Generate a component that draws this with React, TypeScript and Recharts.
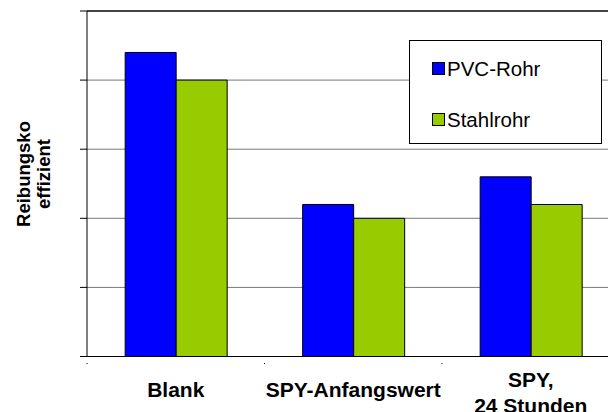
import React from "react";
import { BarChart, Bar, XAxis, YAxis, CartesianGrid, Legend, Label } from "recharts";

const categories = ["Blank", "SPY-Anfangswert", "SPY,\n24 Stunden"];
const pvcValues = [0.44, 0.22, 0.26];
const stahlValues = [0.4, 0.2, 0.22];
const yTicks = [0, 0.1, 0.2, 0.3, 0.4, 0.5];
const seriesNames = ["PVC-Rohr", "Stahlrohr"];
const seriesColors = ["#0000FF", "#99CC00"];
const yLabelLines = ["Reibungsko", "effizient"];

const data = categories.map((c, i) => ({ cat: c, pvc: pvcValues[i], stahl: stahlValues[i] }));

const FONT = "'Liberation Sans', Arial, sans-serif";

const XTick = (props: any) => {
  const { x, y, payload } = props;
  const half = payload && payload.offset ? payload.offset : 88.75;
  const lines = String(payload.value).split("\n");
  const firstBaseline = 397 - (lines.length - 1) * 10.5;
  return (
    <g>
      <line x1={x - half} y1={y - 0.5} x2={x - half} y2={363} stroke="#000" strokeWidth={1} />
      <text textAnchor="middle" fontFamily={FONT} fontWeight="bold" fontSize={21} fill="#000">
        {lines.map((l, i) => (
          <tspan key={i} x={x} y={firstBaseline + i * 26}>
            {l}
          </tspan>
        ))}
      </text>
    </g>
  );
};

const GridLine = (props: any) => {
  const { x1, x2, y1, y2 } = props;
  const isTop = Math.abs(y1 - 11) < 2;
  return (
    <line
      x1={x1}
      x2={x2}
      y1={y1}
      y2={y2}
      stroke={isTop ? "#444" : "#777"}
      strokeWidth={isTop ? 2 : 1}
    />
  );
};

const LegendContent = () => (
  <div
    style={{
      position: "relative",
      width: 193,
      height: 104,
      boxSizing: "border-box",
      border: "1px solid #000",
      background: "#fff",
      fontFamily: FONT,
    }}
  >
    {seriesNames.map((n, i) => (
      <React.Fragment key={n}>
        <div
          style={{
            position: "absolute",
            left: 22,
            top: 21 + i * 51,
            width: 13,
            height: 13,
            boxSizing: "border-box",
            border: "1px solid #000",
            background: seriesColors[i],
          }}
        />
        <div
          style={{
            position: "absolute",
            left: 37,
            top: 17 + i * 51,
            fontSize: 20.5,
            lineHeight: "21px",
            color: "#000",
            whiteSpace: "nowrap",
          }}
        >
          {n}
        </div>
      </React.Fragment>
    ))}
  </div>
);

const YLabel = () => (
  <g>
    {yLabelLines.map((l, i) => (
      <text
        key={l}
        transform={`translate(${30 + i * 20},174) rotate(-90)`}
        textAnchor="middle"
        fontFamily={FONT}
        fontWeight="bold"
        fontSize={18.5}
        fill="#000"
      >
        {l}
      </text>
    ))}
  </g>
);

export default function App() {
  return (
    <div style={{ position: "absolute", left: 0, top: 0, width: 608, height: 412, overflow: "hidden", background: "#fff" }}>
      <BarChart
        width={640}
        height={412}
        data={data}
        margin={{ top: 11, right: 20.5, left: 0, bottom: 0 }}
        barCategoryGap="21.5%"
        barGap={0}
      >
        <CartesianGrid vertical={false} horizontal={<GridLine />} />
        <XAxis
          dataKey="cat"
          height={55.5}
          axisLine={{ stroke: "#000", strokeWidth: 1 }}
          tickLine={false}
          tick={<XTick />}
          interval={0}
        />
        <YAxis
          width={87}
          domain={[0, 0.5]}
          ticks={yTicks}
          interval={0}
          axisLine={{ stroke: "#000", strokeWidth: 1 }}
          tickLine={{ stroke: "#000", strokeWidth: 1 }}
          tickSize={7}
          tick={() => <g />}
        >
          <Label content={<YLabel />} />
        </YAxis>
        <Legend
          layout="vertical"
          align="center"
          verticalAlign="middle"
          content={<LegendContent />}
          wrapperStyle={{ left: 409, top: 40, width: 193, height: 104 }}
        />
        <Bar dataKey="pvc" name={seriesNames[0]} fill={seriesColors[0]} stroke="#000" strokeWidth={1} isAnimationActive={false} />
        <Bar dataKey="stahl" name={seriesNames[1]} fill={seriesColors[1]} stroke="#000" strokeWidth={1} isAnimationActive={false} />
      </BarChart>
    </div>
  );
}
